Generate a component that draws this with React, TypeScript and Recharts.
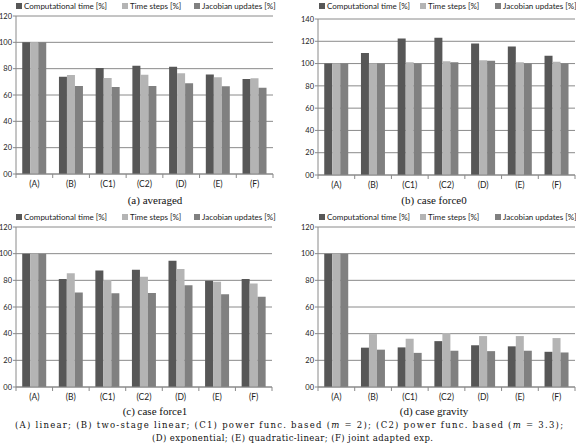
import React from 'react';
import { BarChart, Bar, XAxis, YAxis, CartesianGrid } from 'recharts';

const categories = ['(A)', '(B)', '(C1)', '(C2)', '(D)', '(E)', '(F)'];
const seriesNames = ['Computational time [%]', 'Time steps [%]', 'Jacobian updates [%]'];

const avgComp = [100, 73.9, 80.5, 82.2, 81.5, 75.6, 72.2];
const avgTime = [100, 75.1, 72.9, 75.4, 76.6, 73.4, 72.7];
const avgJac = [100, 66.8, 66.1, 66.8, 69, 66.6, 65.6];

const force0Comp = [100, 109.4, 122.6, 123.1, 118, 115.4, 107.1];
const force0Time = [100, 100, 101.1, 102, 102.9, 101.1, 101.7];
const force0Jac = [100, 100, 100, 101.1, 102.6, 100, 100];

const force1Comp = [100, 81, 87.4, 87.9, 94.6, 79.7, 81];
const force1Time = [100, 85.4, 80.3, 82.6, 88.5, 79, 77.7];
const force1Jac = [100, 70.8, 70.3, 70.5, 76.4, 69.5, 67.7];

const gravComp = [100, 29.5, 29.7, 34.4, 31.3, 30.5, 26.4];
const gravTime = [100, 39.7, 36.2, 40.5, 38.2, 38.2, 36.7];
const gravJac = [100, 28, 25.6, 27.2, 26.9, 27.2, 25.9];

const ticks120 = [0, 20, 40, 60, 80, 100, 120];
const ticks140 = [0, 20, 40, 60, 80, 100, 120, 140];

const COLORS = ['#575757', '#b4b4b4', '#808080'];
const AXIS = '#8a8a8a';
const SANS = 'Lato, "Liberation Sans", sans-serif';
const SERIF = '"Liberation Serif", serif';

const toRows = (comp: number[], time: number[], jac: number[]) =>
  categories.map((cat, i) => ({ cat, comp: comp[i], time: time[i], jac: jac[i] }));

const fmtY = (v: number) => (v === 0 ? '00' : String(v));

interface PanelProps {
  rows: { cat: string; comp: number; time: number; jac: number }[];
  left: number;
  top: number;
  width: number;
  height: number;
  marginTop: number;
  marginRight: number;
  yWidth: number;
  yMax: number;
  ticks: number[];
  legendX: number[];
}

const Panel: React.FC<PanelProps> = ({
  rows, left, top, width, height, marginTop, marginRight, yWidth, yMax, ticks, legendX,
}) => {
  const xHeight = 18;
  const bw = (width - yWidth - marginRight) / categories.length;

  // excel style: tick marks sit between categories, not under them
  const catTick = (props: any) => {
    const { x, y, payload, index } = props;
    return (
      <g>
        {index === 0 && <line x1={x - bw / 2} x2={x - bw / 2} y1={y} y2={y + 4} stroke={AXIS} />}
        <line x1={x + bw / 2} x2={x + bw / 2} y1={y} y2={y + 4} stroke={AXIS} />
        <text x={x} y={y + 13} textAnchor="middle" fontSize={8.5} fill="#222" fontFamily={SANS}>
          {payload.value}
        </text>
      </g>
    );
  };

  return (
    <div style={{ position: 'absolute', left, top, width, height }}>
      {seriesNames.map((name, i) => (
        <div
          key={name}
          style={{
            position: 'absolute', left: legendX[i], top: 1, height: 10, lineHeight: '10px',
            fontFamily: SANS, fontSize: 8, color: '#222', whiteSpace: 'nowrap',
          }}
        >
          <span style={{ display: 'inline-block', width: 6, height: 6, background: COLORS[i], marginRight: 2 }} />
          {name}
        </div>
      ))}
      <BarChart
        width={width}
        height={height}
        data={rows}
        margin={{ top: marginTop, right: marginRight, bottom: 0, left: 0 }}
        barCategoryGap="17%"
        barGap={0}
      >
        <CartesianGrid vertical={false} stroke={AXIS} strokeWidth={1} />
        <XAxis
          dataKey="cat"
          height={xHeight}
          interval={0}
          tickLine={false}
          tickSize={0}
          tickMargin={0}
          axisLine={{ stroke: AXIS }}
          tick={catTick}
        />
        <YAxis
          type="number"
          domain={[0, yMax]}
          ticks={ticks}
          interval={0}
          width={yWidth}
          tickFormatter={fmtY}
          tickSize={3}
          tickMargin={1}
          axisLine={{ stroke: AXIS }}
          tickLine={{ stroke: AXIS }}
          tick={{ fontSize: 7.5, fill: '#222', fontFamily: SANS }}
        />
        <Bar dataKey="comp" fill={COLORS[0]} isAnimationActive={false} />
        <Bar dataKey="time" fill={COLORS[1]} isAnimationActive={false} />
        <Bar dataKey="jac" fill={COLORS[2]} isAnimationActive={false} />
      </BarChart>
    </div>
  );
};

const App: React.FC = () => {
  return (
    <div
      style={{
        position: 'absolute', left: 0, top: 0, width: 576, height: 447,
        background: '#fff', overflow: 'hidden',
      }}
    >
      <Panel rows={toRows(avgComp, avgTime, avgJac)} left={0} top={0} width={285} height={192}
        marginTop={16} marginRight={12} yWidth={16} yMax={120} ticks={ticks120} legendX={[16, 122, 194]} />
      <Panel rows={toRows(force0Comp, force0Time, force0Jac)} left={288} top={0} width={288} height={193}
        marginTop={19} marginRight={1} yWidth={30} yMax={140} ticks={ticks140} legendX={[31, 132, 207]} />
      <Panel rows={toRows(force1Comp, force1Time, force1Jac)} left={0} top={211} width={284} height={194}
        marginTop={16} marginRight={12} yWidth={16} yMax={120} ticks={ticks120} legendX={[16, 122, 194]} />
      <Panel rows={toRows(gravComp, gravTime, gravJac)} left={288} top={211} width={288} height={194}
        marginTop={16} marginRight={1} yWidth={30} yMax={120} ticks={ticks120} legendX={[31, 132, 207]} />

      <svg width={576} height={447} style={{ position: 'absolute', left: 0, top: 0, pointerEvents: 'none' }}>
        <g fontFamily={SERIF} fontSize={11} fill="#111" textAnchor="middle">
          <text x={155} y={204}>(a) averaged</text>
          <text x={434} y={204}>(b) case force0</text>
          <text x={155} y={415}>(c) case force1</text>
          <text x={434} y={415}>(d) case gravity</text>
        </g>
        <g fontFamily='"DejaVu Serif", serif' fontSize={8.5} fill="#111">
          <text x={15} y={428} textLength={548} lengthAdjust="spacing">
            (A) linear; (B) two-stage linear; (C1) power func. based (<tspan fontStyle="italic">m</tspan> = 2); (C2) power func. based (<tspan fontStyle="italic">m</tspan> = 3.3);
          </text>
          <text x={152} y={441} textLength={281} lengthAdjust="spacing">
            (D) exponential; (E) quadratic-linear; (F) joint adapted exp.
          </text>
        </g>
      </svg>
    </div>
  );
};

export default App;
